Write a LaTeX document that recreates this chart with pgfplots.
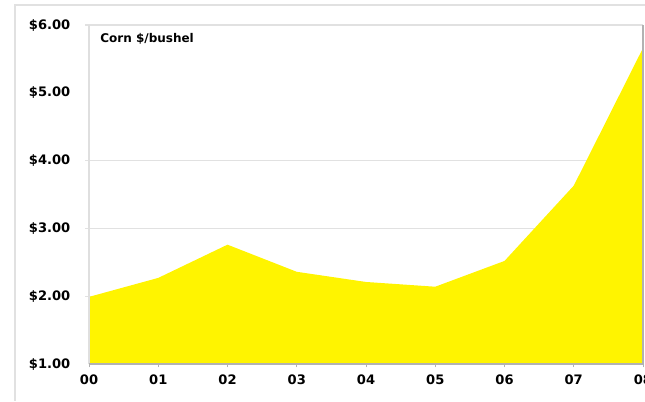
\documentclass[border=0pt]{standalone}
\usepackage{fontspec}
\setmainfont{DejaVu Sans}
\usepackage{pgfplots}
\pgfplotsset{compat=1.18}
\definecolor{cornyellow}{RGB}{255,244,0}
\definecolor{framegray}{RGB}{225,225,225}
\begin{document}
\begin{tikzpicture}
% bounding box: 645x401 px, 1px = 0.75pt, axis origin at px (89,364)
\path[use as bounding box] (-66.75pt,-27.75pt) rectangle (417pt,273pt);
\draw[framegray, line width=0.8pt] (-55.5pt,-27.75pt) -- (-55.5pt,269.25pt) -- (417pt,269.25pt);
\begin{axis}[
  at={(0,0)}, anchor=south west,
  scale only axis,
  width=415.5pt, height=254.25pt,
  xmin=0, xmax=8, ymin=1, ymax=6,
  xtick={0,1,...,8},
  xticklabels={00,01,02,03,04,05,06,07,08},
  ytick={1,2,3,4,5,6},
  yticklabels={\$1.00,\$2.00,\$3.00,\$4.00,\$5.00,\$6.00},
  axis line style={draw=none},
  xtick style={draw=gray!60, line width=0.5pt},
  ytick style={draw=none},
  xtick pos=bottom,
  tick align=outside,
  major tick length=2.5pt,
  tick label style={font=\fontsize{9.8}{11}\selectfont\bfseries},
  yticklabel style={xshift=-8pt},
  xticklabel style={yshift=-2pt},
  clip=false,
]
% light gridlines (none visible at $5)
\foreach \g in {2,3,4,6} {
  \edef\tmp{\noexpand\draw[framegray, line width=0.8pt] ([xshift=-3pt]axis cs:0,\g) -- (axis cs:8,\g);}
  \tmp
}
\addplot[fill=cornyellow, draw=none] coordinates {
  (0,1.99) (1,2.27) (2,2.76) (3,2.36) (4,2.21) (5,2.14) (6,2.52) (7,3.63) (8,5.66)
} \closedcycle;
\draw[gray!25, line width=0.8pt] (rel axis cs:0,0) -- (rel axis cs:0,1);
\draw[gray!60, line width=0.8pt] (rel axis cs:0,0) -- (rel axis cs:1,0);
\draw[gray!60, line width=1.2pt] (rel axis cs:1,0) -- (rel axis cs:1,1);
\node[anchor=west, font=\fontsize{9}{10}\selectfont\bfseries] at (rel axis cs:0.012,0.958) {Corn \$/bushel};
\end{axis}
\end{tikzpicture}
\end{document}
